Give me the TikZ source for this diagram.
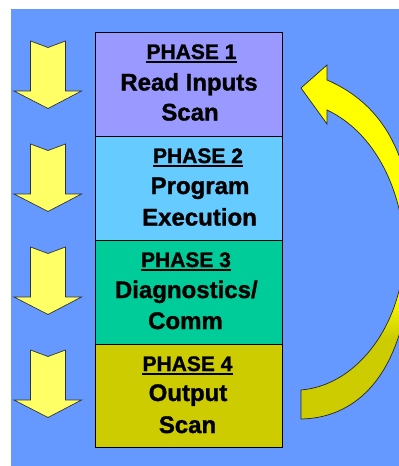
\documentclass[tikz,border=0pt]{standalone}
\usepackage{fontspec}
\setmainfont{Liberation Sans}[BoldFeatures={FakeBold=1.2}]
\definecolor{bgblue}{HTML}{6699FF}
\definecolor{ph1}{HTML}{9999FF}
\definecolor{ph2}{HTML}{66CCFF}
\definecolor{ph3}{HTML}{00CC99}
\definecolor{ph4}{HTML}{CCCC00}
\definecolor{arrowyel}{HTML}{FFFF66}
\definecolor{brightyel}{HTML}{FFFF00}
\definecolor{oliveyel}{HTML}{CCCC00}
\tikzset{
  phasebox/.style={draw=black, line width=0.8pt, minimum width=187pt, minimum height=104pt, anchor=north west, inner sep=0pt},
  headtxt/.style={anchor=base, inner sep=0pt, font=\fontsize{21}{21}\selectfont\bfseries},
  bodytxt/.style={anchor=base, inner sep=0pt, font=\fontsize{24}{24}\selectfont\bfseries},
  uline/.style={line width=1.8pt},
  downarrow/.style={fill=arrowyel, draw=black!80, line width=0.7pt, line join=miter},
  loopedge/.style={draw=black!85, line width=0.7pt, line join=miter},
}
\newcommand\looppath{(301,419) .. controls (360,418) and (410,370) .. (412,245) .. controls (414,160) and (385,105) .. (327,80) -- (327,65) -- (301,88) -- (327,124) -- (327,110) .. controls (380,135) and (404,200) .. (404,250) .. controls (404,320) and (360,385) .. (301,390) -- cycle}
\begin{document}
\begin{tikzpicture}[x=1pt,y=-1pt]
\useasboundingbox (0,0) rectangle (399,466);
\fill[white] (0,0) rectangle (399,466);
\fill[bgblue] (11,9) rectangle (399,466);

% phase boxes
\node[phasebox, fill=ph1] (p1) at (95,32) {};
\node[phasebox, fill=ph2] (p2) at (95,136) {};
\node[phasebox, fill=ph3] (p3) at (95,240) {};
\node[phasebox, fill=ph4, minimum height=103pt] (p4) at (95,344) {};

% texts
\node[headtxt] (h1) at (191.5,59) {PHASE 1};
\node[bodytxt] (a1) at (189,90.5) {Read Inputs};
\node[bodytxt] (b1) at (190,120.5) {Scan};

\node[headtxt] (h2) at (198,163) {PHASE 2};
\node[bodytxt] (a2) at (200,194) {Program};
\node[bodytxt] (b2) at (199.5,225.5) {Execution};

\node[headtxt] (h3) at (186,267) {PHASE 3};
\node[bodytxt] (a3) at (186.3,298) {Diagnostics/};
\node[bodytxt] (b3) at (185.5,329) {Comm};

\node[headtxt] (h4) at (187.5,371) {PHASE 4};
\node[bodytxt] (a4) at (188,401) {Output};
\node[bodytxt] (b4) at (187.5,433) {Scan};

\foreach \h in {h1,h2,h3,h4}{
  \draw[uline] ([yshift=-2.6pt]\h.base west) -- ([yshift=-2.6pt]\h.base east);
}

% down arrows
\foreach \t in {41,144,247,350}{
  \draw[downarrow] (30.5,\t) -- (48,\t+6.5) -- (65.5,\t) -- (65.5,\t+50) -- (81.5,\t+50)
     -- (48,\t+67.5) -- (14,\t+50) -- (30.5,\t+50) -- cycle;
}

% curved return arrow
\begin{scope}
  \clip \looppath;
  \fill[brightyel] (290,50) rectangle (440,295);
  \shade[top color=brightyel, bottom color=oliveyel] (290,295) rectangle (440,338);
  \fill[oliveyel] (290,338) rectangle (440,430);
\end{scope}
\draw[loopedge] \looppath;
\end{tikzpicture}
\end{document}
